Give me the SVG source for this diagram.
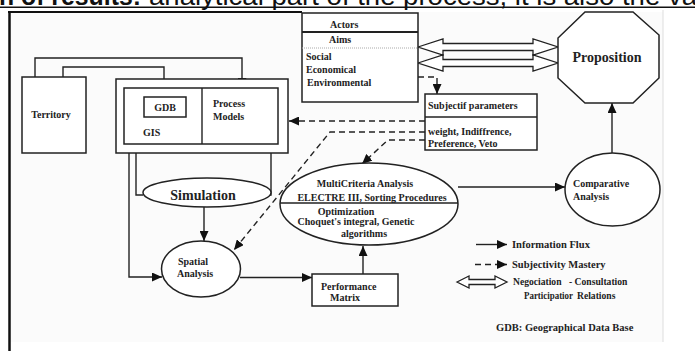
<svg xmlns="http://www.w3.org/2000/svg" width="695" height="351" viewBox="0 0 695 351">
<defs>
<marker id="ah" markerUnits="userSpaceOnUse" markerWidth="10" markerHeight="9" refX="10" refY="4.5" orient="auto">
<path d="M0,0 L10,4.5 L0,9 z" fill="#111"/>
</marker>
<style>
.s{fill:none;stroke:#222;stroke-width:1.4}
.n{fill:#fff;stroke:#222;stroke-width:1.5}
.d{fill:none;stroke:#222;stroke-width:1.4;stroke-dasharray:6,4}
.h{fill:#fff;stroke:#222;stroke-width:1.3}
.t{font-family:"Liberation Serif","Times New Roman",serif;font-weight:bold;font-size:10px;fill:#222}
.big{font-size:14px}
.lg{font-family:"Liberation Serif","Times New Roman",serif;font-weight:bold;font-size:10.5px;fill:#222}
.sm{font-size:9.6px}
.m{text-anchor:middle}
</style>
</defs>
<rect width="695" height="351" fill="#fff"/>
<rect x="10" y="12" width="653" height="330" fill="#fbfbfb"/>
<line x1="663" y1="10" x2="663" y2="342" stroke="#ddd" stroke-width="1"/>
<line x1="9.5" y1="11" x2="9.5" y2="351" stroke="#111" stroke-width="2.5"/>
<line x1="8" y1="12" x2="302" y2="12" stroke="#111" stroke-width="2"/>
<g id="header">
<text x="-1" y="5" font-family="Liberation Sans, Arial, sans-serif" font-weight="bold" font-size="25" fill="#111" textLength="142" lengthAdjust="spacingAndGlyphs">n of results:</text>
<text x="149" y="5" font-family="Liberation Sans, Arial, sans-serif" font-size="25" fill="#111" textLength="548" lengthAdjust="spacingAndGlyphs">analytical part of the process, it is also the va</text>
<line x1="0" y1="7.2" x2="695" y2="7.2" stroke="#111" stroke-width="1.6"/>
</g>
<g id="connectors">
<polyline class="s" points="63,77 63,67 164,67 164,96" marker-end="url(#ah)"/>
<polyline class="s" points="35,77 35,58 242,58 242,88" marker-end="url(#ah)"/>
<polyline class="s" points="136,153 136,195 143,195"/>
<polyline class="s" points="271,153 271,195 264,195"/>
<polyline class="s" points="129,144 129,277 162,277" marker-end="url(#ah)"/>
<line class="s" x1="204" y1="207" x2="204" y2="241" marker-end="url(#ah)"/>
<line class="s" x1="240" y1="277.5" x2="312" y2="277.5" marker-end="url(#ah)"/>
<line class="s" x1="363" y1="274" x2="363" y2="246" marker-end="url(#ah)"/>
<line class="s" x1="458" y1="187" x2="565" y2="187" marker-end="url(#ah)"/>
<line class="s" x1="612" y1="153" x2="612" y2="103" marker-end="url(#ah)"/>
<polyline class="d" points="418,77 437,77 437,94" marker-end="url(#ah)"/>
<line class="d" x1="425" y1="121" x2="289" y2="121" marker-end="url(#ah)"/>
<polyline class="d" points="425,132 330,132 234,250" marker-end="url(#ah)"/>
<polyline class="d" points="425,140 388,140 362,164" marker-end="url(#ah)"/>
<path class="h" d="M418,47 L443,39 L443,43.5 L533,43.5 L533,39 L558,47 L533,55 L533,50.5 L443,50.5 L443,55 Z"/>
<path class="h" d="M418,63 L443,55 L443,59.5 L533,59.5 L533,55 L558,63 L533,71 L533,66.5 L443,66.5 L443,71 Z"/>
</g>
<g id="territory">
<rect class="n" x="22" y="77" width="64" height="76"/>
<text class="t m" x="51" y="117.5">Territory</text>
</g>
<g id="gis-models">
<rect class="n" x="116" y="79" width="172" height="74"/>
<rect class="n" x="124" y="88" width="154" height="56"/>
<line class="s" x1="202" y1="88" x2="202" y2="144"/>
<text class="t" x="143" y="135.5">GIS</text>
<text class="t" x="213" y="106.5">Process</text>
<text class="t" x="213" y="119.5">Models</text>
</g>
<g id="gdb">
<rect class="n" x="144" y="97" width="42" height="20"/>
<text class="t m" x="165" y="110.5">GDB</text>
</g>
<g id="simulation">
<ellipse class="n" cx="207" cy="192.5" rx="64" ry="14.5"/>
<text class="t big m" x="203" y="200">Simulation</text>
</g>
<g id="spatial">
<ellipse class="n" cx="201" cy="269" rx="39.5" ry="28"/>
<text class="t" x="178" y="264.5">Spatial</text>
<text class="t" x="177" y="276.5">Analysis</text>
</g>
<g id="performance">
<rect class="n" x="312" y="274" width="86" height="32"/>
<text class="t" x="321" y="289.5">Performance</text>
<text class="t" x="330" y="300.5">Matrix</text>
</g>
<g id="mca">
<ellipse class="n" cx="369" cy="204" rx="89" ry="41"/>
<line class="s" x1="280" y1="203" x2="458" y2="203"/>
<text class="t m" x="365" y="186.5">MultiCriteria Analysis</text>
<text class="t m" x="372" y="201">ELECTRE III, Sorting Procedures</text>
<text class="t m" x="346" y="214.5">Optimization</text>
<text class="t m" x="356" y="225">Choquet's integral, Genetic</text>
<text class="t m" x="364" y="236.5">algorithms</text>
</g>
<g id="comparative">
<ellipse class="n" cx="612.5" cy="189.5" rx="47.5" ry="36.5"/>
<text class="t" x="573" y="186.5">Comparative</text>
<text class="t" x="573" y="199.5">Analysis</text>
</g>
<g id="proposition">
<polygon class="n" points="585,12 633,12 659,35 659,78 633,103 585,103 558,78 558,38"/>
<text class="t big m" x="607" y="62">Proposition</text>
</g>
<g id="actors">
<rect class="n" x="302" y="13" width="116" height="89"/>
<line x1="302" y1="32" x2="418" y2="32" stroke="#222" stroke-width="1.8"/>
<line x1="302" y1="48" x2="418" y2="48" stroke="#aaa" stroke-width="1" stroke-dasharray="1,1"/>
<text class="t" x="330" y="27.5">Actors</text>
<text class="t" x="329" y="42.5">Aims</text>
<text class="t" x="306" y="60">Social</text>
<text class="t" x="306" y="72.5">Economical</text>
<text class="t" x="307" y="85.5">Environmental</text>
</g>
<g id="subjectif">
<rect class="n" x="425" y="94" width="112" height="56"/>
<line class="s" x1="425" y1="117" x2="537" y2="117"/>
<text class="t" x="428" y="108.5">Subjectif parameters</text>
<text class="t" x="428" y="134.5">weight, Indiffrence,</text>
<text class="t" x="428" y="146.5">Preference, Veto</text>
</g>
<g id="legend">
<line class="s" x1="476" y1="244.5" x2="507" y2="244.5" marker-end="url(#ah)"/>
<line class="d" x1="475" y1="264.5" x2="507" y2="264.5" stroke-dasharray="5,3" marker-end="url(#ah)"/>
<path class="h" d="M457,282 L469,276 L469,279.5 L495,279.5 L495,276 L507,282 L495,288 L495,284.5 L469,284.5 L469,288 Z"/>
<text class="lg" x="512" y="248">Information Flux</text>
<text class="lg" x="512" y="268">Subjectivity Mastery</text>
<text class="lg sm" x="513" y="285">Negociation</text>
<text class="lg sm" x="569" y="285">- Consultation</text>
<text class="lg sm" x="524" y="299" textLength="49" lengthAdjust="spacingAndGlyphs">Participatior</text>
<text class="lg sm" x="577" y="299">Relations</text>
<text class="lg" x="496" y="330.5">GDB: Geographical Data Base</text>
</g>
</svg>
